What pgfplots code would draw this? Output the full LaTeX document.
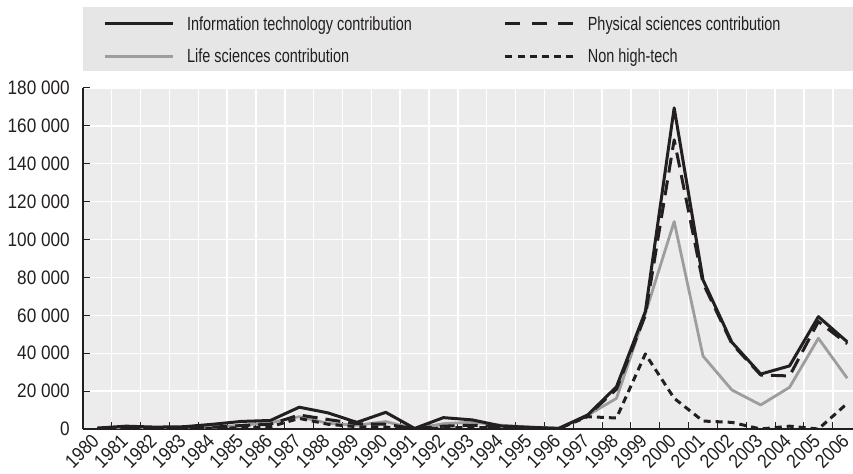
\documentclass[border=0pt]{standalone}
\usepackage{fontspec}
\setmainfont{Liberation Sans}[FakeStretch=0.76]
\newfontfamily\tickfont{Liberation Sans}[FakeStretch=0.88]
\usepackage{pgfplots}
\usepackage{pgfplotstable}
\pgfplotsset{compat=1.18}
\definecolor{plotbg}{RGB}{236,236,236}
\definecolor{legbg}{RGB}{230,230,231}
\definecolor{ocblack}{RGB}{35,31,32}
\definecolor{ocgray}{RGB}{157,157,157}

\pgfplotstableread{
x    it     phys   life   non
0.5  500    300    200    100
1.5  1500   500    300    200
2.5  1000   500    300    200
3.5  1200   600    400    200
4.5  2500   1000   800    400
5.5  4000   1800   2000   600
6.5  4500   2500   3300   1200
7.5  11500  7400   6500   5600
8.5  8500   5000   3000   2500
9.5  3500   2800   2000   1200
10.5 8800   2500   3900   1000
11.5 300    200    200    100
12.5 6000   1500   2800   500
13.5 4800   2000   3600   900
14.5 1600   1000   2000   500
15.5 900    500    1000   400
16.5 300    200    500    200
17.5 7400   7000   7200   6500
18.5 22300  21000  16200  5800
19.5 62000  60000  61000  39600
20.5 169500 152600 109500 16200
21.5 78700  77000  38500  4200
22.5 45800  45000  20600  3500
23.5 29000  28500  12700  0
24.5 33300  28000  22000  1500
25.5 59300  56700  47900  0
26.5 46000  45000  26800  13500
}\datatable

\begin{document}
\begin{tikzpicture}
\path[use as bounding box] (0,0) rectangle (853bp,474bp);
\fill[legbg] (83bp,403bp) rectangle (853bp,467bp);
\begin{axis}[
  at={(82.9bp,45bp)}, anchor=south west,
  width=770.1bp, height=341bp, scale only axis,
  xmin=0, xmax=26.7, ymin=0, ymax=180000,
  axis background/.style={fill=plotbg},
  axis x line*=bottom, axis y line*=left,
  axis line style={ocblack, line width=1.8bp, -},
  xtick={0,...,26},
  xticklabels={1980,1981,1982,1983,1984,1985,1986,1987,1988,1989,1990,1991,1992,1993,1994,1995,1996,1997,1998,1999,2000,2001,2002,2003,2004,2005,2006},
  ytick={0,20000,...,180000},
  grid=major, major grid style={white, line width=1.4bp},
  tick align=inside, major tick length=7bp,
  tick style={ocblack, line width=1bp},
  scaled y ticks=false,
  /pgf/number format/fixed,
  /pgf/number format/1000 sep={\ },
  /pgf/number format/assume math mode=true,
  tick label style={font=\tickfont\fontsize{19.5bp}{22bp}\selectfont, text=ocblack},
  yticklabel style={inner sep=0pt, xshift=-13bp},
  xticklabel style={rotate=45, anchor=east, inner sep=0pt, xshift=3bp, yshift=-15bp},
  no markers,
  every axis plot/.append style={line join=round},
  legend columns=2,
  legend cell align=left,
  legend style={at={(axis description cs:0.026,1.1406)}, anchor=west, fill=none, draw=none,
    font=\fontsize{19bp}{22bp}\selectfont, text=ocblack, row sep=13bp, inner sep=0pt,
    /tikz/every odd column/.append style={column sep=11bp},
    /tikz/every even column/.append style={column sep=90bp}},
  legend image code/.code={\draw[#1, line cap=butt] (0bp,0bp) -- (68bp,0bp);},
]
\addlegendimage{ocblack, line width=3bp}
\addlegendentry{Information technology contribution}
\addlegendimage{ocblack, line width=3bp, dash pattern=on 15bp off 11.5bp}
\addlegendentry{Physical sciences contribution}
\addlegendimage{ocgray, line width=2.8bp}
\addlegendentry{Life sciences contribution}
\addlegendimage{ocblack, line width=3bp, dash pattern=on 7bp off 5.2bp}
\addlegendentry{Non high-tech}

\addplot[forget plot, ocgray, line width=2.8bp] table[x=x, y=life] {\datatable};
\addplot[forget plot, ocblack, line width=3bp] table[x=x, y=it] {\datatable};
\addplot[forget plot, ocblack, line width=3bp, dash pattern=on 15bp off 8bp] table[x=x, y=phys] {\datatable};
\addplot[forget plot, ocblack, line width=3bp, dash pattern=on 7bp off 5bp] table[x=x, y=non] {\datatable};
\end{axis}
\end{tikzpicture}
\end{document}
